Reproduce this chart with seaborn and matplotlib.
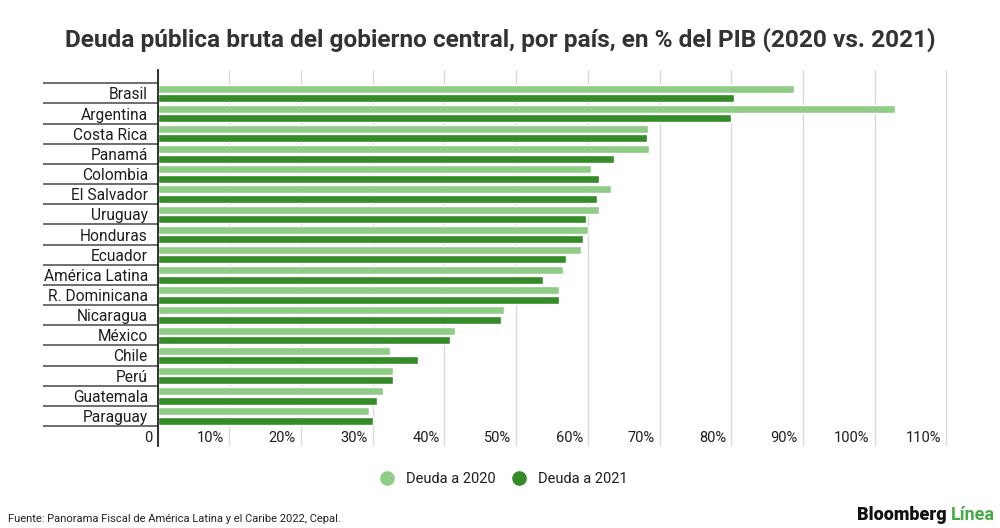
import matplotlib
matplotlib.use("Agg")
import matplotlib.pyplot as plt
import matplotlib.transforms as mtransforms
from matplotlib.lines import Line2D
import numpy as np
import pandas as pd
import seaborn as sns

# data (% of GDP)
paises = ["Brasil", "Argentina", "Costa Rica", "Panamá", "Colombia", "El Salvador",
          "Uruguay", "Honduras", "Ecuador", "América Latina", "R. Dominicana",
          "Nicaragua", "México", "Chile", "Perú", "Guatemala", "Paraguay"]
deuda_2020 = [88.7, 102.9, 68.4, 68.5, 60.5, 63.3, 61.5, 60.0, 59.1, 56.5, 56.0,
              48.3, 41.5, 32.4, 32.9, 31.5, 29.5]
deuda_2021 = [80.4, 80.0, 68.3, 63.6, 61.6, 61.3, 59.7, 59.3, 57.0, 53.7, 56.0,
              47.9, 40.8, 36.3, 32.8, 30.6, 30.1]
series = ["Deuda a 2020", "Deuda a 2021"]
x_ticks = [0, 10, 20, 30, 40, 50, 60, 70, 80, 90, 100, 110]
x_labels = ["0", "10%", "20%", "30%", "40%", "50%", "60%", "70%", "80%", "90%", "100%", "110%"]

verde_claro = "#8fcd86"
verde_oscuro = "#348b28"
texto = "#1e1e1e"

df = pd.DataFrame({
    "pais": paises * 2,
    "valor": deuda_2020 + deuda_2021,
    "serie": [series[0]] * len(paises) + [series[1]] * len(paises),
})

sns.set_theme(style="white")
plt.rcParams["font.family"] = ["Roboto", "DejaVu Sans"]

fig = plt.figure(figsize=(10, 5.28), dpi=100)
ax = fig.add_axes([0.1575, 1 - 446 / 528, 0.95 - 0.1575, (446 - 70) / 528])

sns.barplot(data=df, y="pais", x="valor", hue="serie", order=paises, hue_order=series,
            palette=[verde_claro, verde_oscuro], width=0.94, gap=0.15,
            saturation=1, legend=False, ax=ax)

ax.set_xlim(0, 110.5)
ax.set_ylim(len(paises) - 0.5 + 0.99, -1.16)
ax.set_xlabel("")
ax.set_ylabel("")

# gridlines
ax.set_axisbelow(True)
ax.grid(axis="x", color="#dadada", linewidth=1)
ax.grid(axis="y", visible=False)
for s in ["top", "right", "bottom"]:
    ax.spines[s].set_visible(False)
ax.spines["left"].set_color("#222222")
ax.spines["left"].set_linewidth(1.3)

# x ticks inside the plot area, right-aligned to gridlines
ax.set_xticks(x_ticks)
ax.set_xticklabels(x_labels, fontsize=10.5, color=texto, ha="right")
ax.tick_params(axis="x", length=0, pad=0)
shift = mtransforms.ScaledTranslation(-0.05, 0.155, fig.dpi_scale_trans)
for lab in ax.get_xticklabels():
    lab.set_transform(lab.get_transform() + shift)

# y labels and separator lines
ax.tick_params(axis="y", which="major", length=0, pad=7, labelsize=11.2, labelcolor=texto)
ax.set_yticks(np.arange(-0.5, len(paises), 1), minor=True)
ax.tick_params(axis="y", which="minor", left=True, length=83, width=1.2,
               color="#555555", direction="out")

fig.text(0.5, 1 - 40 / 528, "Deuda pública bruta del gobierno central, por país, en % del PIB (2020 vs. 2021)",
         ha="center", va="center", fontsize=17.6, fontweight="bold", color="#333333")

handles = [Line2D([], [], marker="o", linestyle="", markersize=9.5, color=c) for c in [verde_claro, verde_oscuro]]
fig.legend(handles, series, loc="center", bbox_to_anchor=(0.5, 1 - 479 / 528), ncol=2,
           frameon=False, fontsize=10.5, handletextpad=0.3, columnspacing=0.6,
           labelcolor=texto)

fig.text(0.008, 1 - 519 / 528, "Fuente: Panorama Fiscal de América Latina y el Caribe 2022, Cepal.",
         ha="left", va="center", fontsize=8, color="#222222")

t2 = fig.text(0.995, 1 - 515 / 528, "Línea", ha="right", va="center", fontsize=13,
              fontweight="bold", color="#4aab44")
ax.annotate("Bloomberg", xy=(0, 0), xycoords=t2, xytext=(-3, 0), textcoords="offset points",
            ha="right", va="bottom", fontsize=13, fontweight="black", color="#111111",
            annotation_clip=False)

fig.savefig("out.png", dpi=100)
